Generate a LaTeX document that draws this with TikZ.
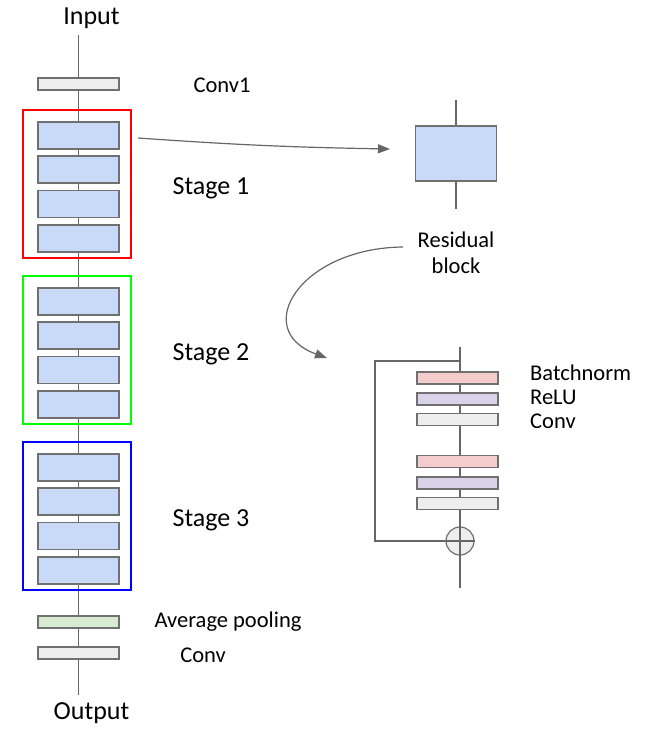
\documentclass[tikz,border=0pt]{standalone}
\usepackage{fontspec}
\setmainfont{Carlito}
\usetikzlibrary{arrows.meta}
\definecolor{ln}{HTML}{666666}
\definecolor{bd}{HTML}{707070}
\definecolor{blk}{HTML}{C9DAF8}
\definecolor{gry}{HTML}{EEEEEE}
\definecolor{pnk}{HTML}{F4CCCC}
\definecolor{prp}{HTML}{D9D2E9}
\definecolor{grn}{HTML}{D9EAD3}
\tikzset{
  wire/.style={draw=ln, line width=1.2pt},
  layer/.style={draw=bd, line width=1.3pt, minimum width=81pt, inner sep=0pt, outer sep=0pt},
  thin/.style={layer, minimum height=12pt},
  blockbox/.style={layer, minimum height=27pt, fill=blk},
  stagebox/.style={draw=#1, line width=2.6pt, inner sep=0pt, outer sep=0pt},
  small/.style={font=\fontsize{22.5}{26}\selectfont, inner sep=0pt},
  big/.style={font=\fontsize{26}{30}\selectfont, inner sep=0pt},
  arr/.style={draw=ln, line width=1.2pt, -{Triangle[length=12pt,width=9pt]}},
}
\begin{document}
\begin{tikzpicture}[x=1pt,y=-1pt]
\useasboundingbox (0,0) rectangle (645,737);
% main column
\node[big] (input) at (91.5,18.5) {Input};
\node[big] (output) at (91.5,713.5) {Output};
\coordinate (top) at (78.5,35);
\coordinate (bot) at (78.5,695);
\draw[wire] (top) -- (bot);
\node[thin, fill=gry] (conv1) at (78.5,84) {};
\foreach \s/\c in {0/red,1/green,2/blue}{
  \pgfmathsetmacro{\o}{166*\s}
  \node[blockbox] (b\s a) at (78.5,135.5+\o) {};
  \node[blockbox] (b\s b) at (78.5,169.5+\o) {};
  \node[blockbox] (b\s c) at (78.5,204+\o) {};
  \node[blockbox] (b\s d) at (78.5,238.5+\o) {};
  \draw[stagebox=\c] (23,110+\o) rectangle (131,258+\o);
}
\node[thin, fill=grn] (pool) at (78.5,622) {};
\node[thin, fill=gry] (conv) at (78.5,653) {};
\node[small] (lconv1) at (222,85) {Conv1};
\node[big] (s1) at (211,188.5) {Stage 1};
\node[big] (s2) at (211,354.5) {Stage 2};
\node[big] (s3) at (211,520.5) {Stage 3};
\node[small] (lpool) at (228,622) {Average pooling};
\node[small] (lconv) at (203,655) {Conv};
% residual block overview
\coordinate (rtop) at (456,100);
\coordinate (rbot) at (456,209);
\draw[wire] (rtop) -- (rbot);
\node[layer, fill=blk, minimum height=55pt] (res) at (456,153.5) {};
\node[small, align=center] (lres) at (456,253) {Residual\\[0pt]block};
\coordinate (a1s) at (138,138);
\coordinate (a1e) at (390,149);
\draw[arr] (a1s) to[bend right=1.5] (a1e);
\coordinate (a2s) at (403,247);
\coordinate (a2e) at (327,358);
\draw[arr] (a2s) .. controls (300,248) and (250,330) .. (a2e);
% detailed block
\coordinate (dtop) at (460,347);
\coordinate (dbot) at (460,588);
\coordinate (split) at (460,361);
\coordinate (sk1) at (375,361);
\coordinate (sk2) at (375,541);
\draw[wire] (dtop) -- (dbot);
\node[thin, fill=pnk] (bn1) at (457.5,378) {};
\node[thin, fill=prp] (re1) at (457.5,399) {};
\node[thin, fill=gry] (cv1) at (457.5,419.5) {};
\node[thin, fill=pnk] (bn2) at (457.5,461.5) {};
\node[thin, fill=prp] (re2) at (457.5,483) {};
\node[thin, fill=gry] (cv2) at (457.5,503.5) {};
\node[circle, draw=bd, line width=1.2pt, fill=gry, minimum size=28pt, inner sep=0pt] (add) at (460,541) {};
\draw[wire] (add.north) -- (add.south) (add.west) -- (add.east);
\draw[wire] (split) -- (sk1) -- (sk2) -- (add.west);
\node[small, anchor=west] (lbn) at (530,373) {Batchnorm};
\node[small, anchor=west] (lre) at (530,397) {ReLU};
\node[small, anchor=west] (lcv) at (530,421) {Conv};
\end{tikzpicture}
\end{document}
